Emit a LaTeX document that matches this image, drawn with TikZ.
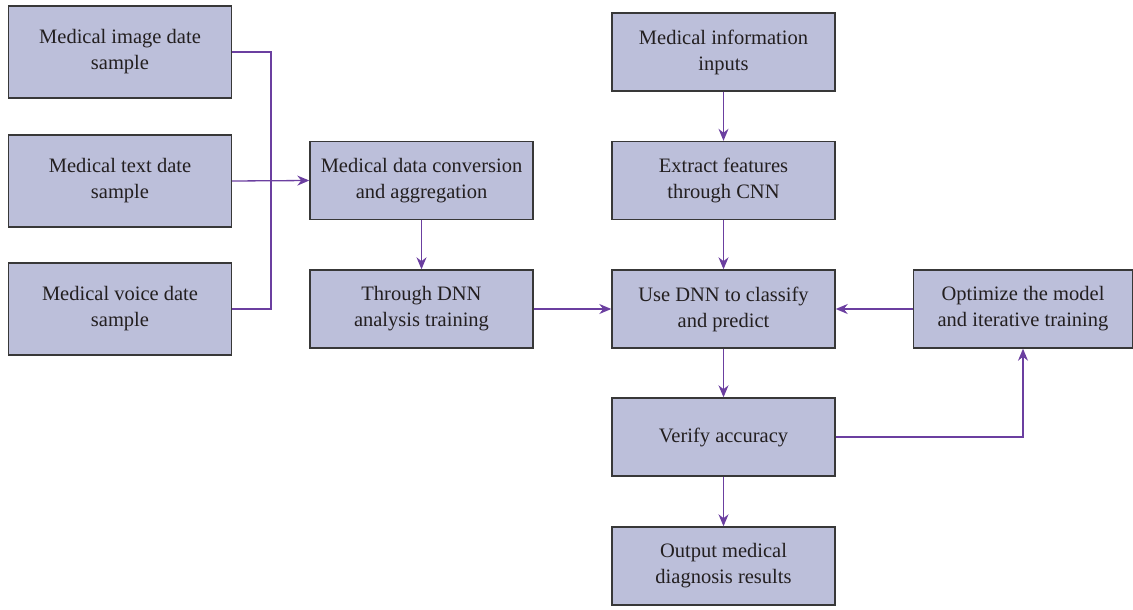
\documentclass[tikz,border=0pt]{standalone}
\usepackage{fontspec}
\setmainfont{Liberation Serif}
\usetikzlibrary{arrows.meta}
\definecolor{boxfill}{HTML}{BCBFDA}
\definecolor{boxline}{HTML}{383838}
\definecolor{flow}{HTML}{6B3FA0}
\definecolor{ink}{HTML}{231F20}
\tikzset{
  stagebox/.style={draw=boxline,fill=boxfill,line width=1.4pt,text=ink,align=center,
    minimum width=223pt,minimum height=78pt,inner sep=2pt,
    font=\fontsize{20.5}{26}\selectfont},
  samplebox/.style={stagebox,minimum height=92pt},
  flowline/.style={draw=flow,line width=1.3pt},
  flowarrow/.style={flowline,-{Stealth[length=12pt,width=10pt]}}
}
\begin{document}
\begin{tikzpicture}[x=1pt,y=-1pt]
\useasboundingbox (0,0) rectangle (1133,610);
% input samples
\node[samplebox] (image) at (120,52) {Medical image date\\sample};
\node[samplebox] (text) at (120,181) {Medical text date\\sample};
\node[samplebox] (voice) at (120,309) {Medical voice date\\sample};
% middle column
\node[stagebox] (convert) at (421.5,180.5) {Medical data conversion\\and aggregation};
\node[stagebox] (train) at (421.5,309) {Through DNN\\analysis training};
% right column
\node[stagebox] (info) at (723.5,52) {Medical information\\inputs};
\node[stagebox] (extract) at (723.5,180.5) {Extract features\\through CNN};
\node[stagebox] (classify) at (723.5,309) {Use DNN to classify\\and predict};
\node[stagebox] (verify) at (723.5,437) {Verify accuracy};
\node[stagebox] (output) at (723.5,566) {Output medical\\diagnosis results};
\node[stagebox,minimum width=219pt] (optimize) at (1023,309) {Optimize the model\\and iterative training};
% connectors
\coordinate (join) at (271,52);
\draw[flowline] (image.east) -- (join) |- (voice.east);
\draw[flowarrow] (text.east) -- (convert.west);
\draw[flowarrow] (convert) -- (train);
\draw[flowarrow] (train) -- (classify);
\draw[flowarrow] (info) -- (extract);
\draw[flowarrow] (extract) -- (classify);
\draw[flowarrow] (optimize) -- (classify);
\draw[flowarrow] (classify) -- (verify);
\draw[flowarrow] (verify) -- (output);
\draw[flowarrow] (verify.east) -| (optimize.south);
\end{tikzpicture}
\end{document}
